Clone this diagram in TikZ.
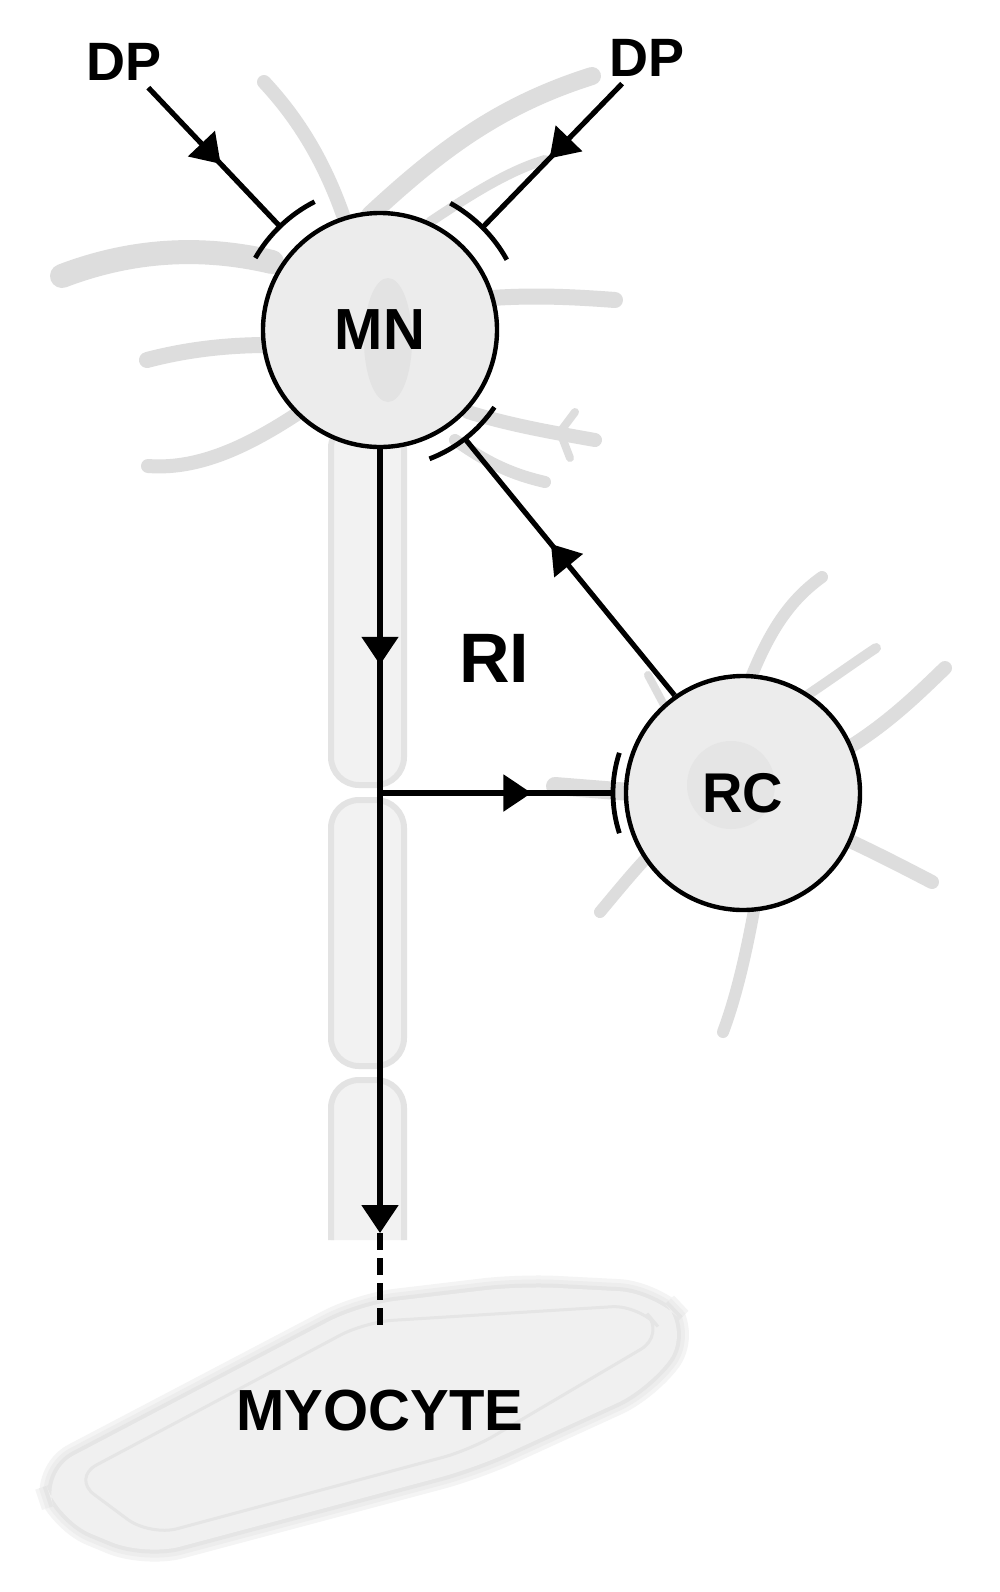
\documentclass[tikz,border=0pt]{standalone}
\usepackage{fontspec}
\setmainfont{Liberation Sans}
\usetikzlibrary{arrows.meta,decorations.markings,calc}

\begin{document}
\begin{tikzpicture}[x=0.5pt,y=-0.5pt,
    every node/.style={font=\bfseries},
    lbl/.style={font=\bfseries\fontsize{#1}{#1}\selectfont},
    cell/.style={circle,draw,line width=2.2pt,fill=gray!15,minimum size=117pt,inner sep=0pt},
    dend/.style={draw=gray!27,line width=#1,line cap=round,line join=round},
    dend/.default=6pt,
    conn/.style={line width=2.6pt},
    syn/.style={line width=2.4pt},
    midtip/.style={postaction={decorate},decoration={markings,
        mark=at position #1 with {\arrow{Triangle[length=14pt,width=18pt]}}}}]
  \path[use as bounding box,fill=white] (0,0) rectangle (1000,1592);
  % myocyte
  \foreach \w/\c in {12pt/9,8pt/14,4pt/20}
    \draw[draw=gray!\c,line width=\w,rounded corners=18pt] (42,1472) -- (360,1305) -- (520,1286) -- (655,1293) -- (690,1330) -- (650,1388) -- (475,1468) -- (145,1556) -- (58,1520) -- cycle;
  \fill[gray!12,rounded corners=18pt] (42,1472) -- (360,1305) -- (520,1286) -- (655,1293) -- (690,1330) -- (650,1388) -- (475,1468) -- (145,1556) -- (58,1520) -- cycle;
  \draw[gray!20,line width=1.5pt,rounded corners=14pt] (72,1478) -- (365,1322) -- (640,1305) -- (665,1335) -- (470,1450) -- (150,1536) -- cycle;
  % axon sheath
  \foreach \a/\b in {420/785,800/1066}
    \draw[draw=gray!22,fill=gray!10,line width=3pt,rounded corners=14pt] (331,\a) rectangle (404,\b);
  \draw[draw=gray!22,fill=gray!10,line width=3pt,rounded corners=14pt] (331,1240) -- (331,1080) -- (404,1080) -- (404,1240);
  % dendrites of MN
  \draw[dend=7pt] (343,215) .. controls (320,150) and (290,110) .. (264,82);
  \draw[dend=9pt] (370,215) .. controls (440,150) and (500,105) .. (592,76);
  \draw[dend=5pt] (430,222) .. controls (470,195) and (510,170) .. (545,160);
  \draw[dend=12pt] (272,262) .. controls (200,245) and (130,250) .. (62,276);
  \draw[dend=8pt] (268,345) .. controls (225,345) and (185,350) .. (147,360);
  \draw[dend=7pt] (300,412) .. controls (250,445) and (200,470) .. (148,466);
  \draw[dend=8pt] (492,298) .. controls (535,295) and (575,297) .. (615,300);
  \draw[dend=7pt] (468,412) .. controls (510,425) and (550,432) .. (595,440);
  \draw[dend=4pt] (560,432) -- (575,412) (560,432) -- (570,458);
  \draw[dend=6pt] (455,440) .. controls (490,465) and (515,475) .. (545,482);
  % dendrites of RC
  \draw[dend=6pt] (750,680) .. controls (770,630) and (790,600) .. (822,577);
  \draw[dend=5pt] (800,700) .. controls (830,680) and (852,664) .. (876,648);
  \draw[dend=7pt] (848,748) .. controls (890,722) and (920,692) .. (945,668);
  \draw[dend=7pt] (848,840) .. controls (880,855) and (905,868) .. (932,882);
  \draw[dend=6pt] (755,905) .. controls (745,960) and (735,1000) .. (723,1032);
  \draw[dend=6pt] (652,852) .. controls (632,873) and (616,893) .. (600,912);
  \draw[dend=9pt] (630,792) -- (555,786);
  \draw[dend=4pt] (664,705) -- (648,675);
  % cells
  \node[cell,lbl=29,path picture={\fill[gray!22] ([xshift=4pt,yshift=-5pt]path picture bounding box.center) ellipse [x radius=12pt,y radius=31pt];}] (mn) at (380,330) {MN};
  \node[cell,lbl=28,path picture={\fill[gray!20] ([xshift=-6pt,yshift=4pt]path picture bounding box.center) circle[radius=22pt];}] (rc) at (743,793) {RC};
  % labels
  \node[lbl=27] (dpl) at (124,62) {DP};
  \node[lbl=27] (dpr) at (647,58) {DP};
  \node[lbl=35] (ri) at (494,658) {RI};
  \node[lbl=29] (myo) at (380,1411) {MYOCYTE};
  % synapse points
  \coordinate (synl) at ($(mn)+(134:72pt)$);
  \coordinate (synr) at ($(mn)+(45:72.5pt)$);
  \coordinate (synb) at ($(mn)+(-52:69pt)$);
  \coordinate (sync) at ($(rc)+(180:65pt)$);
  \coordinate (br) at (mn|-rc);
  \coordinate (axend) at (380,1233);
  \coordinate (dashend) at (380,1330);
  % connections
  \draw[conn,midtip=0.55] (dpl) -- (synl);
  \draw[conn,midtip=0.52] (dpr) -- (synr);
  \draw[conn,midtip=0.59] (rc.125) -- (synb);
  \draw[conn,midtip=0.275,-{Triangle[length=14pt,width=18pt]}] (mn) -- (axend);
  \draw[conn,midtip=0.65] (br) -- (sync);
  \draw[conn,dash pattern=on 8.5pt off 4pt] (axend) -- (dashend);
  % synapse endings
  \draw[syn] ($(mn)+(117:72pt)$) arc[start angle=117,end angle=150,radius=72pt];
  \draw[syn] ($(mn)+(29:72.5pt)$) arc[start angle=29,end angle=61,radius=72.5pt];
  \draw[syn] ($(mn)+(-34:69pt)$) arc[start angle=-34,end angle=-69,radius=69pt];
  \draw[syn] ($(rc)+(162:65pt)$) arc[start angle=162,end angle=198,radius=65pt];
\end{tikzpicture}
\end{document}
